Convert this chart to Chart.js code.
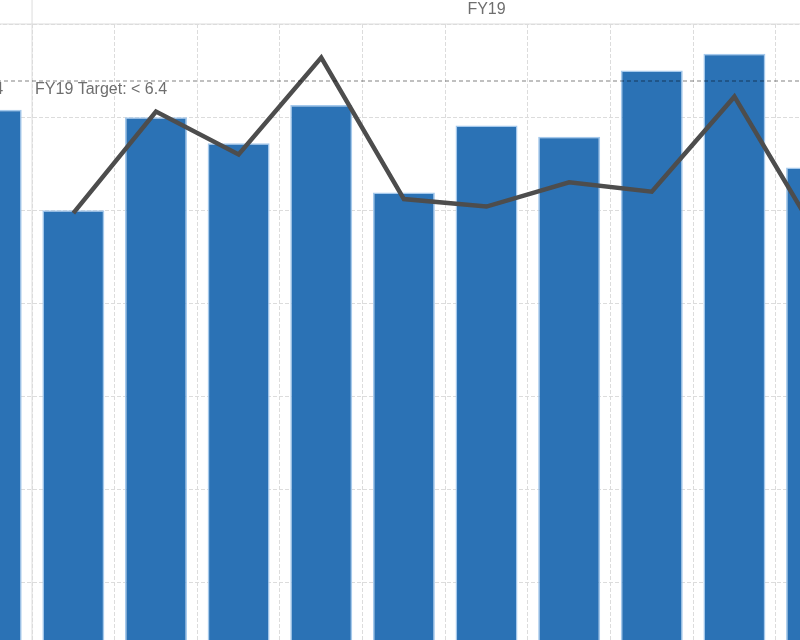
<!DOCTYPE html>
<html>
<head>
<meta charset="utf-8">
<title>FY19</title>
<script src="https://cdn.jsdelivr.net/npm/chart.js@4/dist/chart.umd.min.js"></script>
<style>
    html, body { margin: 0; padding: 0; width: 800px; height: 640px; overflow: hidden; background: #fff; }
    #wrap { position: absolute; left: -150px; top: 0; width: 1150px; height: 700px; }
</style>
</head>
<body>
<div id="wrap"><canvas id="myChart" width="1150" height="700"></canvas></div>
<script>
// months, last one of FY18 first, then FY19
const months = ['Jun', 'Jul', 'Aug', 'Sep', 'Oct', 'Nov', 'Dec', 'Jan', 'Feb', 'Mar', 'Apr', 'May'];
const fiscalYears = ['FY18', 'FY19', 'FY19', 'FY19', 'FY19', 'FY19', 'FY19', 'FY19', 'FY19', 'FY19', 'FY19', 'FY19'];
const actualValues = [6.08, 5.00, 6.00, 5.72, 6.13, 5.19, 5.91, 5.79, 6.50, 6.68, 5.46, null];
const trendValues = [null, 4.97, 6.06, 5.60, 6.64, 5.12, 5.04, 5.30, 5.20, 6.22, 4.73, null];
const yTicks = [0, 1, 2, 3, 4, 5, 6, 7];
const targets = { FY18: 6.4, FY19: 6.4 };

let chart = null;

// header label, FY divider and target lines
const fiscalPlugin = {
    id: 'fiscalPlugin',
    afterDatasetsDraw(c) {
        const ctx = c.ctx;
        const x = c.scales.x;
        const y = c.scales.y;
        const area = c.chartArea;
        const half = (x.getPixelForValue(1) - x.getPixelForValue(0)) / 2;
        const first19 = fiscalYears.indexOf('FY19');
        const divider = x.getPixelForValue(first19) - half;

        ctx.save();
        ctx.strokeStyle = '#dcdcdc';
        ctx.lineWidth = 1;
        ctx.setLineDash([]);
        ctx.beginPath();
        ctx.moveTo(divider, 0);
        ctx.lineTo(divider, area.bottom);
        ctx.moveTo(0, y.getPixelForValue(yTicks[yTicks.length - 1]));
        ctx.lineTo(c.width, y.getPixelForValue(yTicks[yTicks.length - 1]));
        ctx.stroke();

        // target line
        const ty = y.getPixelForValue(targets.FY19) + 1;
        ctx.strokeStyle = 'rgba(0,0,0,0.33)';
        ctx.lineWidth = 1.5;
        ctx.setLineDash([4, 3]);
        ctx.beginPath();
        ctx.moveTo(0, ty);
        ctx.lineTo(c.width, ty);
        ctx.stroke();

        ctx.setLineDash([]);
        ctx.font = '16px "Liberation Sans", Arial, sans-serif';
        ctx.fillStyle = '#6e6e6e';
        ctx.textBaseline = 'middle';
        ctx.textAlign = 'left';
        ctx.fillText('FY19 Target: < ' + targets.FY19, divider + 3, ty + 9);
        ctx.textAlign = 'right';
        ctx.fillText('FY18 Target: < ' + targets.FY18, divider - 29, ty + 9);

        ctx.textAlign = 'center';
        ctx.fillText('FY19', (divider + area.right) / 2, 10);
        ctx.restore();
    }
};

function drawChart() {
    try {
        const ctx = document.getElementById('myChart').getContext('2d');
        if (chart) chart.destroy();
        chart = new Chart(ctx, {
            data: {
                labels: months,
                datasets: [{
                    type: 'line',
                    label: 'Trend',
                    data: trendValues,
                    borderColor: '#4d4d4d',
                    borderWidth: 4.5,
                    pointRadius: 0,
                    tension: 0,
                    fill: false,
                    order: 0
                }, {
                    type: 'bar',
                    label: 'Actual',
                    data: actualValues,
                    backgroundColor: '#2b72b5',
                    borderColor: 'rgba(160,198,235,0.95)',
                    borderWidth: 1.5,
                    barPercentage: 0.75,
                    categoryPercentage: 1,
                    order: 1
                }]
            },
            options: {
                responsive: false,
                animation: false,
                layout: {
                    autoPadding: false,
                    padding: { left: 99.4, right: 59, top: 24, bottom: 24 }
                },
                plugins: {
                    legend: { display: false },
                    tooltip: { enabled: false }
                },
                scales: {
                    x: {
                        ticks: { display: false },
                        grid: { color: '#dcdcdc', drawTicks: false, borderDash: [4, 2] },
                        border: { display: false, dash: [4, 2] }
                    },
                    y: {
                        min: yTicks[0],
                        max: yTicks[yTicks.length - 1],
                        ticks: { display: false, stepSize: 1 },
                        grid: { color: '#dcdcdc', drawTicks: false, borderDash: [4, 2] },
                        border: { display: false, dash: [4, 2] }
                    }
                }
            },
            plugins: [fiscalPlugin]
        });
        console.log('chart area', chart.chartArea);
    } catch (error) {
        console.error('Error in drawChart:', error);
    }
}

window.addEventListener('DOMContentLoaded', drawChart);
</script>
</body>
</html>
